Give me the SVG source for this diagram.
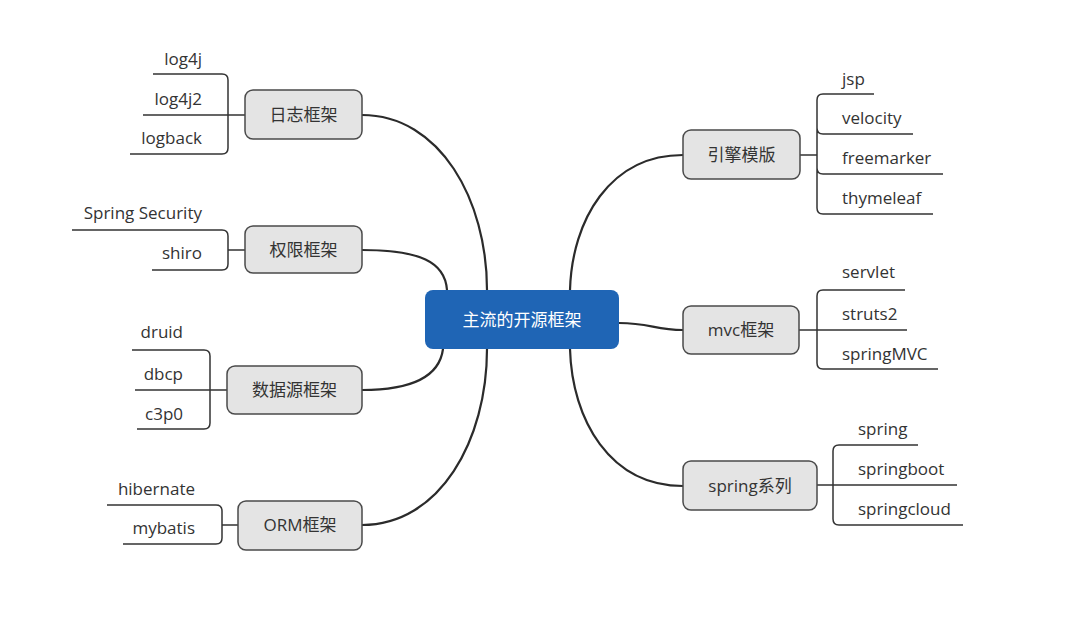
<svg xmlns="http://www.w3.org/2000/svg" width="1080" height="618" viewBox="0 0 1080 618">
<style>
.node rect{fill:#e4e4e4;stroke:#4a4a4a;stroke-width:1.5}
.t{font-family:"Open Sans","Noto Sans CJK SC",sans-serif;font-size:17px;fill:#333}
.c{text-anchor:middle}
.e{text-anchor:end}
.main{fill:none;stroke:#2b2b2b;stroke-width:2.2;stroke-linecap:round}
.br{fill:none;stroke:#333;stroke-width:1.5}
</style>
<rect width="1080" height="618" fill="#fff"/>
<g id="connectors">
<path class="main" d="M362,115 C440,115 487,200 487,290"/>
<path class="main" d="M362,250 C420,250 445,262 447,290"/>
<path class="main" d="M362,390 C420,390 440,372 443,349"/>
<path class="main" d="M362,525 C440,525 487,440 487,349"/>
<path class="main" d="M683,155 C610,155 572,220 570,290"/>
<path class="main" d="M619,323 C650,323 655,330 683,330"/>
<path class="main" d="M683,486 C610,486 572,420 570,349"/>
<path class="br" d="M153,74 H222 Q228,74 228,80 V148 Q228,154 222,154 H130 M143,115 H245"/>
<path class="br" d="M72,230 H222 Q228,230 228,236 V264 Q228,270 222,270 H152 M228,250 H245"/>
<path class="br" d="M132,350 H204 Q210,350 210,356 V423 Q210,429 204,429 H137 M135,390 H227"/>
<path class="br" d="M107,505 H216 Q222,505 222,511 V538 Q222,544 216,544 H123 M222,525 H238"/>
<path class="br" d="M874,94 H823 Q817,94 817,100 V208 Q817,214 823,214 H933 M817,128 Q817,134 823,134 H913 M817,168 Q817,174 823,174 H943 M800,155 H817"/>
<path class="br" d="M905,290 H823 Q817,290 817,296 V363 Q817,369 823,369 H938 M799,330 H907"/>
<path class="br" d="M918,445 H839 Q833,445 833,451 V519 Q833,525 839,525 H963 M817,485 H957"/>
</g>
<g id="center">
<rect x="425" y="290" width="194" height="59" rx="8" fill="#1f65b5"/>
<text class="t c" x="522" y="326" style="fill:#fff">主流的开源框架</text>
</g>
<g id="rizhi" class="node">
<rect x="245" y="90" width="117" height="49" rx="8"/>
<text class="t c" x="303.5" y="121">日志框架</text>
<text class="t e" x="202" y="65">log4j</text>
<text class="t e" x="202" y="105">log4j2</text>
<text class="t e" x="202" y="144">logback</text>
</g>
<g id="quanxian" class="node">
<rect x="245" y="226" width="117" height="47" rx="8"/>
<text class="t c" x="303.5" y="256">权限框架</text>
<text class="t e" x="202" y="219">Spring Security</text>
<text class="t e" x="202" y="259">shiro</text>
</g>
<g id="shujuyuan" class="node">
<rect x="227" y="366" width="135" height="48" rx="8"/>
<text class="t c" x="294.5" y="396">数据源框架</text>
<text class="t e" x="183" y="338">druid</text>
<text class="t e" x="183" y="380">dbcp</text>
<text class="t e" x="183" y="420">c3p0</text>
</g>
<g id="orm" class="node">
<rect x="238" y="501" width="124" height="49" rx="8"/>
<text class="t c" x="300" y="531">ORM框架</text>
<text class="t e" x="195" y="495">hibernate</text>
<text class="t e" x="195" y="534">mybatis</text>
</g>
<g id="yinqing" class="node">
<rect x="683" y="130" width="117" height="49" rx="8"/>
<text class="t c" x="741.5" y="161">引擎模版</text>
<text class="t" x="842" y="85">jsp</text>
<text class="t" x="842" y="124">velocity</text>
<text class="t" x="842" y="164">freemarker</text>
<text class="t" x="842" y="204">thymeleaf</text>
</g>
<g id="mvc" class="node">
<rect x="683" y="306" width="116" height="48" rx="8"/>
<text class="t c" x="741" y="336">mvc框架</text>
<text class="t" x="842" y="278">servlet</text>
<text class="t" x="842" y="320">struts2</text>
<text class="t" x="842" y="360">springMVC</text>
</g>
<g id="spring" class="node">
<rect x="683" y="461" width="134" height="49" rx="8"/>
<text class="t c" x="750" y="492">spring系列</text>
<text class="t" x="858" y="435">spring</text>
<text class="t" x="858" y="475">springboot</text>
<text class="t" x="858" y="515">springcloud</text>
</g>
</svg>
